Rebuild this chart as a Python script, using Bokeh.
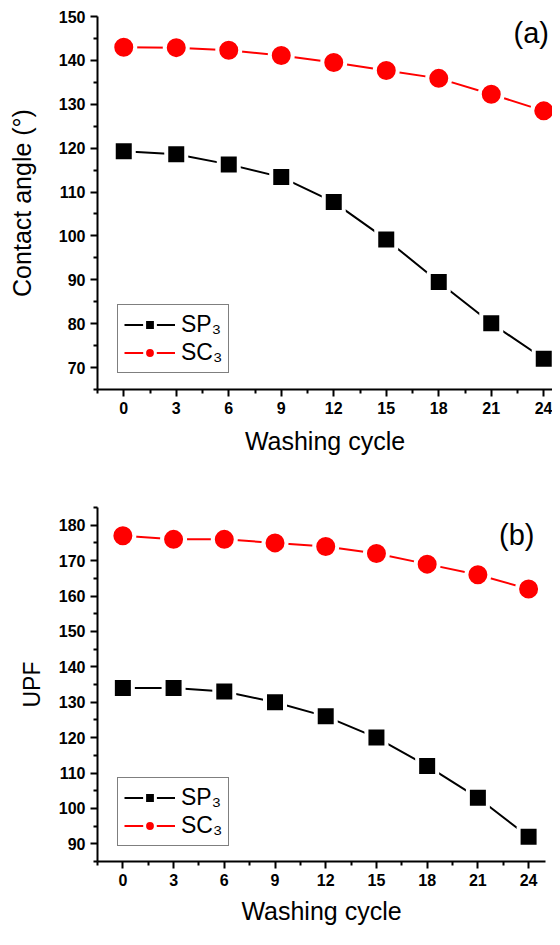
from bokeh.plotting import figure
from bokeh.models import FixedTicker, Legend, LegendItem, Label, ColumnDataSource, Range1d
from bokeh.embed import file_html
from bokeh.resources import INLINE

# ---------------- data ----------------
cycles = [0, 3, 6, 9, 12, 15, 18, 21, 24]
angle_sp3 = [119.3, 118.6, 116.3, 113.4, 107.7, 99.2, 89.5, 80.1, 72.0]
angle_sc3 = [143.0, 142.9, 142.3, 141.1, 139.5, 137.7, 135.9, 132.3, 128.5]
upf_sp3 = [134, 134, 133, 130, 126, 120, 112, 103, 92]
upf_sc3 = [177, 176, 176, 175, 174, 172, 169, 166, 162]

x_major = [0, 3, 6, 9, 12, 15, 18, 21, 24]
x_minor = [-1.5, 1.5, 4.5, 7.5, 10.5, 13.5, 16.5, 19.5, 22.5]
angle_major = [70, 80, 90, 100, 110, 120, 130, 140, 150]
angle_minor = [65, 75, 85, 95, 105, 115, 125, 135, 145]
upf_major = [90, 100, 110, 120, 130, 140, 150, 160, 170, 180]
upf_minor = [85, 95, 105, 115, 125, 135, 145, 155, 165, 175, 185]

series_names = ["SP\u2083", "SC\u2083"]
series_colors = ["#000000", "#ff0000"]
FONT = "Liberation Sans"


def make_panel(sp, sc, x_end, y_range, y_major, y_minor, y_label, tag, tag_pos,
               height, border_top, border_right, border_bottom, x_label_standoff,
               y_label_standoff, y_label_size, legend_loc):
    p = figure(width=552, height=height, output_backend="svg", toolbar_location=None,
               x_range=Range1d(-1.5, x_end), y_range=Range1d(*y_range),
               min_border_left=97, min_border_right=border_right,
               min_border_top=border_top, min_border_bottom=border_bottom,
               background_fill_color="white", border_fill_color="white")
    p.outline_line_color = None
    p.grid.visible = False

    src_sp = ColumnDataSource(dict(x=cycles, y=sp))
    src_sc = ColumnDataSource(dict(x=cycles, y=sc))

    p.line("x", "y", source=src_sp, line_color=series_colors[0], line_width=2)
    p.scatter("x", "y", source=src_sp, marker="square", size=20,
              fill_color=series_colors[0], line_color="white", line_width=4)
    p.line("x", "y", source=src_sc, line_color=series_colors[1], line_width=2)
    p.scatter("x", "y", source=src_sc, marker="circle", size=23,
              fill_color=series_colors[1], line_color="white", line_width=4)

    # legend-only renderers (smaller symbols, as in the original legend)
    lg_l1 = p.line("x", "y", source=src_sp, line_color=series_colors[0], line_width=2, visible=False)
    lg_m1 = p.scatter("x", "y", source=src_sp, marker="square", size=16,
                      fill_color=series_colors[0], line_color="white", line_width=3, visible=False)
    lg_l2 = p.line("x", "y", source=src_sc, line_color=series_colors[1], line_width=2, visible=False)
    lg_m2 = p.scatter("x", "y", source=src_sc, marker="circle", size=18,
                      fill_color=series_colors[1], line_color="white", line_width=3, visible=False)

    legend = Legend(items=[LegendItem(label=series_names[0], renderers=[lg_l1, lg_m1]),
                           LegendItem(label=series_names[1], renderers=[lg_l2, lg_m2])],
                    location=legend_loc, orientation="vertical",
                    glyph_width=51, glyph_height=27, label_height=27, label_standoff=6,
                    padding=6, spacing=1, margin=0,
                    border_line_color="black", border_line_width=1,
                    background_fill_color="white", background_fill_alpha=1.0,
                    label_text_font=FONT, label_text_font_size="23px",
                    label_text_color="black")
    p.add_layout(legend, "center")

    for ax, major, minor in ((p.xaxis[0], x_major, x_minor), (p.yaxis[0], y_major, y_minor)):
        ax.ticker = FixedTicker(ticks=major, minor_ticks=minor)
        ax.axis_line_width = 2
        ax.axis_line_color = "black"
        ax.major_tick_line_width = 2
        ax.minor_tick_line_width = 2
        ax.major_tick_line_color = "black"
        ax.minor_tick_line_color = "black"
        ax.major_tick_in = 0
        ax.major_tick_out = 7
        ax.minor_tick_in = 0
        ax.minor_tick_out = 4
        ax.major_label_text_font = FONT
        ax.major_label_text_font_style = "bold"
        ax.major_label_text_font_size = "16px"
        ax.major_label_text_color = "black"
        ax.major_label_standoff = 5
        ax.axis_label_text_font = FONT
        ax.axis_label_text_font_style = "normal"
        ax.axis_label_text_color = "black"

    p.xaxis.axis_label = "Washing cycle"
    p.xaxis.axis_label_text_font_size = "25px"
    p.xaxis.axis_label_standoff = x_label_standoff
    p.yaxis.axis_label = y_label
    p.yaxis.axis_label_text_font_size = y_label_size
    p.yaxis.axis_label_standoff = y_label_standoff

    p.add_layout(Label(x=tag_pos[0], y=tag_pos[1], text=tag, text_align="right",
                       text_baseline="middle", text_font=FONT, text_font_size="29px",
                       text_color="black"))
    return p


p_top = make_panel(angle_sp3, angle_sc3, 24.5, (65, 150), angle_major, angle_minor,
                   "Contact angle (\u00b0)", "(a)", (24.3, 146.3),
                   height=459, border_top=16, border_right=0, border_bottom=70,
                   x_label_standoff=10, y_label_standoff=20, y_label_size="25px",
                   legend_loc=(20, 16))
p_bot = make_panel(upf_sp3, upf_sc3, 25, (85, 185), upf_major, upf_minor,
                   "UPF", "(b)", (24.35, 177.2),
                   height=470, border_top=48, border_right=7, border_bottom=68,
                   x_label_standoff=8, y_label_standoff=11, y_label_size="23px",
                   legend_loc=(20, 15))

with open("out.html", "w") as f:
    f.write(file_html([p_top, p_bot], INLINE))
